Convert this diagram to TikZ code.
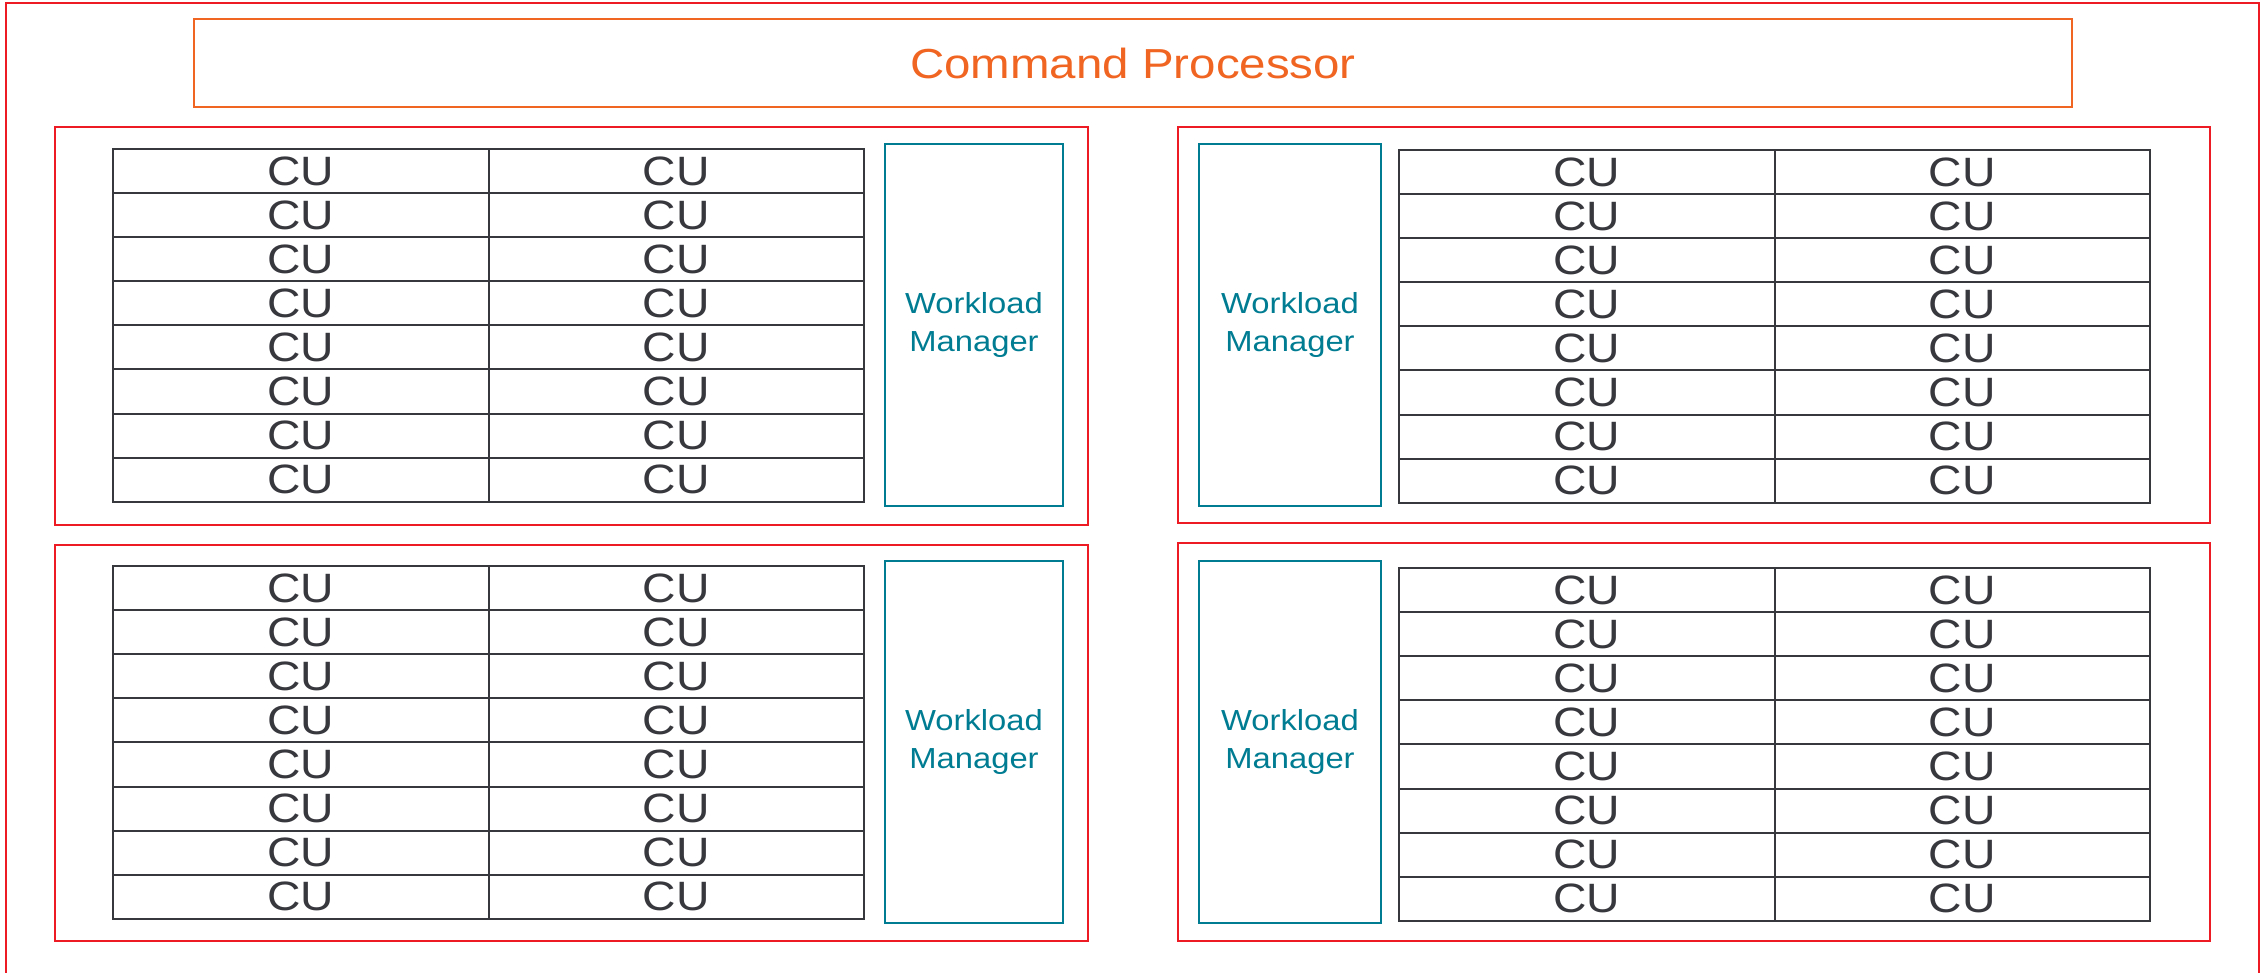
\documentclass[tikz,border=0pt]{standalone}
\usepackage{fontspec}
\setmainfont{Liberation Sans}
\newfontfamily\widesans[FakeStretch=1.13]{Liberation Sans}
\definecolor{cpred}{RGB}{237,28,36}
\definecolor{cporange}{RGB}{241,101,34}
\definecolor{wmteal}{RGB}{0,124,146}
\definecolor{cugray}{RGB}{55,55,62}
\tikzset{
  groupbox/.style={draw=cpred, line width=2pt, inner sep=0pt},
  cpbox/.style={draw=cporange, line width=2pt, inner sep=0pt, text=cporange,
    font=\widesans\fontsize{42}{42}\selectfont},
  wmbox/.style={draw=wmteal, line width=2pt, inner sep=0pt, text=wmteal, align=center,
    font=\widesans\fontsize{29}{38.5}\selectfont},
  cucell/.style={draw=cugray, line width=2pt, inner sep=0pt, text=cugray,
    minimum width=375.5pt, minimum height=44.1pt, font=\widesans\fontsize{41}{41}\selectfont},
}
\begin{document}
\begin{tikzpicture}[x=1pt,y=-1pt]
\useasboundingbox (0,0) rectangle (2260,973);
% outer frame, open at the bottom
\coordinate (fbl) at (6,975);
\coordinate (ftl) at (6,3);
\coordinate (ftr) at (2259,3);
\coordinate (fbr) at (2259,975);
\draw[cpred, line width=2pt] (fbl) -- (ftl) -- (ftr) -- (fbr);

% command processor
\node[cpbox, minimum width=1878pt, minimum height=88pt] (cp) at (1133,63) {Command Processor};

% shader engine frames
\node[groupbox, minimum width=1033pt, minimum height=398pt] (g1) at (571.5,326) {};
\node[groupbox, minimum width=1033pt, minimum height=396pt] (g2) at (571.5,743) {};
\node[groupbox, minimum width=1032pt, minimum height=396pt] (g3) at (1694,325) {};
\node[groupbox, minimum width=1032pt, minimum height=398pt] (g4) at (1694,742) {};

% workload managers
\node[wmbox, minimum width=178pt, minimum height=362pt] (wm1) at (974,325) {Workload\\Manager};
\node[wmbox, minimum width=178pt, minimum height=362pt] (wm2) at (974,742) {Workload\\Manager};
\node[wmbox, minimum width=182pt, minimum height=362pt] (wm3) at (1290,325) {Workload\\Manager};
\node[wmbox, minimum width=182pt, minimum height=362pt] (wm4) at (1290,742) {Workload\\Manager};

% compute unit grids: name / left edge / top edge
\foreach \g/\xl/\yt in {1/113/149, 2/113/566, 3/1399/150, 4/1399/568}{
  \foreach \r in {0,...,7}{
    \foreach \c in {0,1}{
      \node[cucell] (cu\g-\r-\c) at ({\xl+187.75+375.5*\c},{\yt+22.05+44.1*\r}) {CU};
    }
  }
}
\end{tikzpicture}
\end{document}
